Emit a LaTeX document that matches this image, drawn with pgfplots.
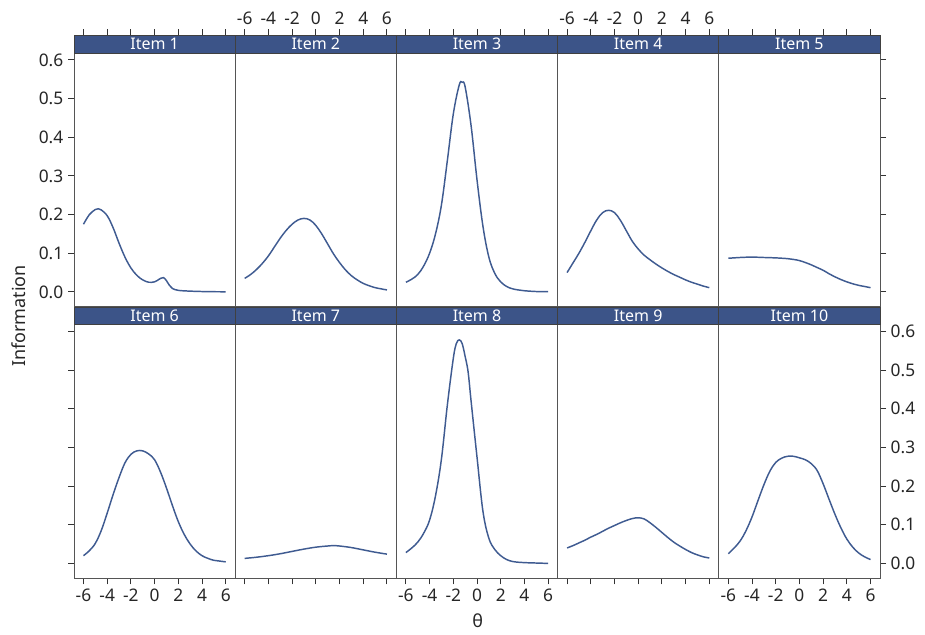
\documentclass[border=0pt]{standalone}
\usepackage{fontspec}
\setmainfont{Noto Sans}
\usepackage{pgfplots}
\pgfplotsset{compat=1.18}
\definecolor{stripBlue}{HTML}{3C5488}
\definecolor{lineBlue}{HTML}{3F5B91}
\definecolor{frameGray}{HTML}{555555}

% 1px of the reference = 0.75pt
\pgfplotsset{
  panel/.style={
    scale only axis, width=120.9pt, height=203.625pt,
    anchor=south west, clip=false,
    xmin=-6.8, xmax=6.8, ymin=-0.039, ymax=0.663,
    axis line style={draw=frameGray, line width=0.75pt},
    tick style={black!80, line width=0.7pt},
    tick align=outside, major tick length=4.5pt,
    xtick={-6,-4,-2,0,2,4,6},
    xticklabels={-6,-4,-2,0,2,4,6},
    ytick={0,0.1,0.2,0.3,0.4,0.5,0.6},
    yticklabels={0.0,0.1,0.2,0.3,0.4,0.5,0.6},
    tick label style={font=\fontsize{13}{15}\selectfont, text=black!85},
    every axis plot post/.append style={lineBlue, line width=1.1pt,
      smooth, tension=0.6, mark=none},
  },
  toprow/.style={xtick pos=top, xticklabel pos=top},
  botrow/.style={xtick pos=bottom, xticklabel pos=bottom},
  nox/.style={xticklabels={,,}},
  leftcol/.style={ytick pos=left},
  rightcol/.style={ytick pos=right, yticklabel pos=right},
  midcol/.style={ytick=\empty},
  noy/.style={yticklabels={,,}},
}
\newcommand{\strip}[1]{%
  \fill[stripBlue, draw=black!75, line width=0.5pt]
    (rel axis cs:0,0.9355) rectangle (rel axis cs:1,1);
  \node[text=white, font=\fontsize{12}{14}\selectfont, inner sep=0pt]
    at (rel axis cs:0.5,0.9678) {#1};
}

\begin{document}
\begin{tikzpicture}
\useasboundingbox (0,0) rectangle (693.75pt,476.25pt);

% ---- top row ----
\begin{axis}[panel, toprow, nox, leftcol, at={(55.5pt,246pt)}]
  \addplot table {
    -6 0.175
    -5.5 0.200
    -5 0.213
    -4.75 0.215
    -4.5 0.212
    -4 0.197
    -3.5 0.166
    -3 0.126
    -2.5 0.090
    -2 0.062
    -1.5 0.043
    -1 0.031
    -0.5 0.025
    0 0.026
    0.25 0.030
    0.5 0.035
    0.75 0.037
    1 0.029
    1.25 0.017
    1.5 0.009
    2 0.004
    3 0.002
    4 0.001
    5 0.0005
    6 0.0003
  };
  \strip{Item 1}
\end{axis}

\begin{axis}[panel, toprow, midcol, at={(176.4pt,246pt)}]
  \addplot table {
    -6 0.035
    -5.5 0.045
    -5 0.058
    -4.5 0.074
    -4 0.093
    -3.5 0.116
    -3 0.139
    -2.5 0.159
    -2 0.175
    -1.5 0.186
    -1 0.190
    -0.5 0.186
    0 0.172
    0.5 0.150
    1 0.124
    1.5 0.098
    2 0.076
    2.5 0.057
    3 0.042
    3.5 0.031
    4 0.022
    4.5 0.016
    5 0.011
    5.5 0.008
    6 0.005
  };
  \strip{Item 2}
\end{axis}

\begin{axis}[panel, toprow, nox, midcol, at={(297.3pt,246pt)}]
  \addplot table {
    -6 0.025
    -5.5 0.033
    -5 0.045
    -4.5 0.067
    -4 0.100
    -3.5 0.150
    -3 0.225
    -2.5 0.340
    -2 0.460
    -1.5 0.535
    -1.25 0.542
    -1 0.530
    -0.5 0.430
    0 0.290
    0.5 0.170
    1 0.090
    1.5 0.048
    2 0.026
    2.5 0.014
    3 0.008
    3.5 0.005
    4 0.003
    5 0.001
    6 0.001
  };
  \strip{Item 3}
\end{axis}

\begin{axis}[panel, toprow, midcol, at={(418.2pt,246pt)}]
  \addplot table {
    -6 0.050
    -5.5 0.075
    -5 0.100
    -4.5 0.128
    -4 0.158
    -3.5 0.186
    -3 0.205
    -2.5 0.211
    -2 0.205
    -1.5 0.185
    -1 0.158
    -0.5 0.131
    0 0.111
    0.5 0.095
    1 0.083
    1.5 0.072
    2 0.062
    2.5 0.053
    3 0.045
    3.5 0.038
    4 0.031
    4.5 0.025
    5 0.020
    5.5 0.015
    6 0.011
  };
  \strip{Item 4}
\end{axis}

\begin{axis}[panel, toprow, nox, rightcol, noy, at={(539.1pt,246pt)}]
  \addplot table {
    -6 0.087
    -5 0.089
    -4 0.090
    -3 0.089
    -2 0.088
    -1 0.086
    -0.5 0.084
    0 0.081
    0.5 0.076
    1 0.070
    1.5 0.063
    2 0.056
    2.5 0.047
    3 0.039
    3.5 0.032
    4 0.026
    4.5 0.021
    5 0.017
    5.5 0.014
    6 0.011
  };
  \strip{Item 5}
\end{axis}

% ---- bottom row ----
\begin{axis}[panel, botrow, leftcol, noy, at={(55.5pt,42.375pt)}]
  \addplot table {
    -6 0.020
    -5.5 0.033
    -5 0.052
    -4.5 0.085
    -4 0.130
    -3.5 0.178
    -3 0.222
    -2.5 0.260
    -2 0.282
    -1.5 0.291
    -1 0.291
    -0.5 0.283
    0 0.268
    0.5 0.236
    1 0.195
    1.5 0.150
    2 0.108
    2.5 0.075
    3 0.050
    3.5 0.032
    4 0.020
    4.5 0.013
    5 0.008
    5.5 0.006
    6 0.004
  };
  \strip{Item 6}
\end{axis}

\begin{axis}[panel, botrow, nox, midcol, at={(176.4pt,42.375pt)}]
  \addplot table {
    -6 0.013
    -5 0.016
    -4 0.020
    -3 0.025
    -2 0.031
    -1 0.037
    0 0.042
    1 0.045
    1.5 0.046
    2 0.045
    3 0.041
    4 0.035
    5 0.029
    6 0.024
  };
  \strip{Item 7}
\end{axis}

\begin{axis}[panel, botrow, midcol, at={(297.3pt,42.375pt)}]
  \addplot table {
    -6 0.028
    -5.5 0.040
    -5 0.055
    -4.5 0.078
    -4 0.112
    -3.5 0.175
    -3 0.270
    -2.5 0.410
    -2 0.530
    -1.75 0.568
    -1.5 0.578
    -1.25 0.568
    -1 0.535
    -0.75 0.495
    -0.5 0.420
    0 0.275
    0.5 0.135
    1 0.065
    1.5 0.036
    2 0.020
    2.5 0.010
    3 0.005
    3.5 0.003
    4 0.002
    5 0.001
    6 0.000
  };
  \strip{Item 8}
\end{axis}

\begin{axis}[panel, botrow, nox, midcol, at={(418.2pt,42.375pt)}]
  \addplot table {
    -6 0.040
    -5.5 0.046
    -5 0.053
    -4.5 0.060
    -4 0.068
    -3.5 0.075
    -3 0.083
    -2.5 0.091
    -2 0.098
    -1.5 0.105
    -1 0.111
    -0.5 0.116
    0 0.118
    0.5 0.115
    1 0.105
    1.5 0.093
    2 0.080
    2.5 0.067
    3 0.055
    3.5 0.045
    4 0.036
    4.5 0.028
    5 0.022
    5.5 0.017
    6 0.014
  };
  \strip{Item 9}
\end{axis}

\begin{axis}[panel, botrow, rightcol, at={(539.1pt,42.375pt)}]
  \addplot table {
    -6 0.025
    -5.5 0.040
    -5 0.058
    -4.5 0.085
    -4 0.120
    -3.5 0.162
    -3 0.203
    -2.5 0.238
    -2 0.261
    -1.5 0.272
    -1 0.277
    -0.5 0.277
    0 0.273
    0.5 0.268
    1 0.258
    1.5 0.240
    2 0.206
    2.5 0.166
    3 0.127
    3.5 0.092
    4 0.063
    4.5 0.042
    5 0.027
    5.5 0.017
    6 0.010
  };
  \strip{Item 10}
\end{axis}

\node[rotate=90, font=\fontsize{13.5}{16}\selectfont, text=black!85] at (13.9pt,239.25pt) {Information};
\node[font=\fontsize{13.5}{16}\selectfont, text=black!85] at (358.3pt,10.5pt) {θ};
\end{tikzpicture}
\end{document}
